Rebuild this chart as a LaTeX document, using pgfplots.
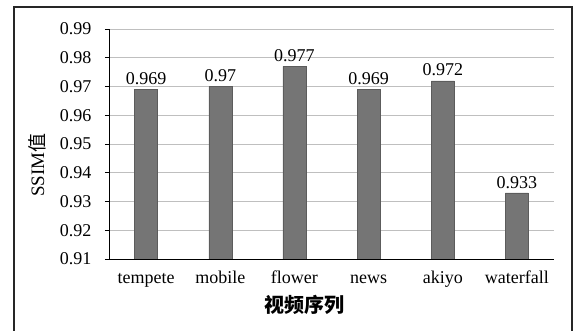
\documentclass[border=0pt]{standalone}
\usepackage{pgfplots}
\pgfplotsset{compat=1.18}
\usepackage{fontspec}
\setmainfont{Liberation Serif}
\newfontfamily\cjk{Noto Sans CJK SC}

\pgfplotstableread{
x  ssim
0  0.969
1  0.970
2  0.977
3  0.969
4  0.972
5  0.933
}\ssimdata

\begin{document}
\begin{tikzpicture}
\useasboundingbox (0,0) rectangle (582bp,331bp);
% outer frame (open at the bottom)
\draw[line width=1.3bp, black!85] (14bp,0) -- (14bp,324bp) -- (572bp,324bp) -- (572bp,0);
\begin{axis}[
  at={(109bp,72bp)}, anchor=south west,
  scale only axis, width=445bp, height=230bp,
  ybar, bar width=23bp,
  xmin=-0.5, xmax=5.5,
  ymin=0.91, ymax=0.99,
  ytick={0.91,0.92,...,0.991},
  xtick={0,...,5},
  xticklabels={tempete,mobile,flower,news,akiyo,waterfall},
  x tick style={draw=none},
  minor xtick={-0.5,0.5,...,5.6},
  minor x tick style={black, line width=0.9bp, yshift=5bp},
  minor tick length=5bp,
  major tick length=4bp,
  tick align=outside,
  y tick style={black, line width=0.8bp},
  axis x line*=bottom, axis y line*=left,
  axis line style={line width=1bp, -},
  ymajorgrids, major grid style={black!25, line width=1bp},
  /pgf/number format/.cd, fixed, precision=2, assume math mode=true,
  /pgfplots/.cd,
  tick label style={font=\fontsize{18bp}{20bp}\selectfont},
  yticklabel style={xshift=-10bp},
  xticklabel style={text height=12bp, text depth=4bp, yshift=-5bp},
  nodes near coords,
  every node near coord/.append style={font=\fontsize{18bp}{20bp}\selectfont,
    /pgf/number format/fixed, /pgf/number format/precision=3,
    /pgf/number format/assume math mode=true, yshift=1bp},
]
\addplot[fill=black!54, draw=black!64] table[x=x, y=ssim] {\ssimdata};
\end{axis}
\node[rotate=90, font=\fontsize{19bp}{21bp}\selectfont] at (37bp,166bp) {SSIM{\cjk 值}};
\node[font=\fontsize{20bp}{22bp}\selectfont\cjk\bfseries] at (304bp,26bp) {视频序列};
\end{tikzpicture}
\end{document}
